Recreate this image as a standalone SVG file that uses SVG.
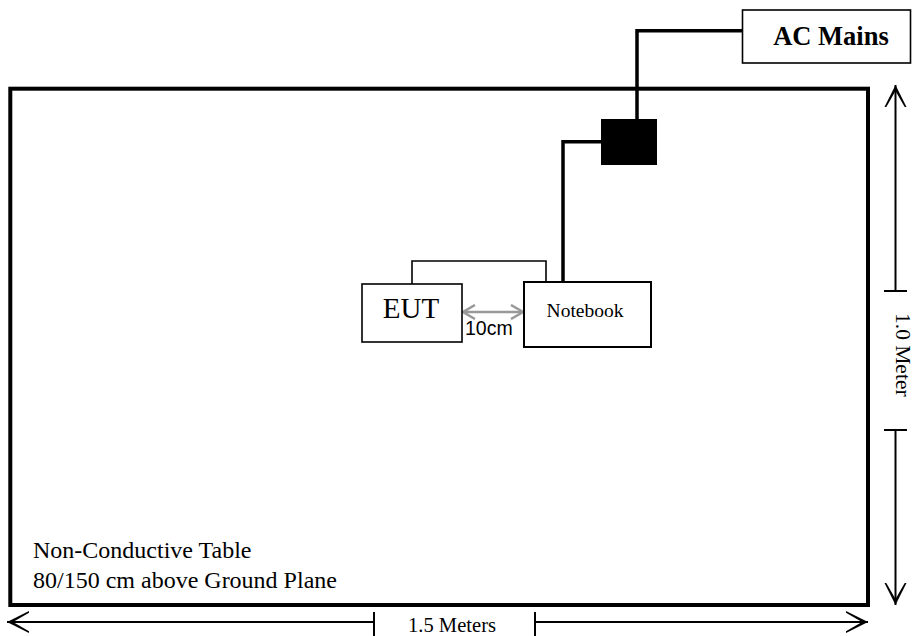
<svg xmlns="http://www.w3.org/2000/svg" width="914" height="636" viewBox="0 0 914 636">
<defs>
<style>
.serif{font-family:"Liberation Serif","Times New Roman",serif;fill:#000}
.box{fill:#fff;stroke:#000}
.wire{fill:none;stroke:#000;stroke-linejoin:miter}
.dim{fill:none;stroke:#000;stroke-width:2}
</style>
<marker id="chev" viewBox="0 0 24 24" markerWidth="24" markerHeight="24" refX="22" refY="12" orient="auto-start-reverse" markerUnits="userSpaceOnUse">
<path d="M22,12 L0,1 L0,2.8 L16,12 L0,21.2 L0,23 Z" fill="#000"/>
</marker>
<marker id="gchev" viewBox="0 0 16 16" markerWidth="16" markerHeight="16" refX="13" refY="8" orient="auto-start-reverse" markerUnits="userSpaceOnUse">
<path d="M1,1 L13,8 L1,15" fill="none" stroke="#999" stroke-width="2.5"/>
</marker>
</defs>
<rect width="914" height="636" fill="#fff"/>

<g id="table">
<rect x="10.3" y="88.7" width="857.7" height="516.3" fill="none" stroke="#000" stroke-width="4"/>
<text class="serif" x="33" y="558" font-size="24">Non-Conductive Table</text>
<text class="serif" x="33" y="588" font-size="24">80/150 cm above Ground Plane</text>
</g>

<g id="connectors">
<polyline class="wire" stroke-width="3.5" points="742,30.7 637,30.7 637,119"/>
<polyline class="wire" stroke-width="3.5" points="601,141.7 563,141.7 563,282"/>
<polyline class="wire" stroke-width="1.6" points="412,284 412,261 546,261 546,282"/>
<line x1="463" y1="312" x2="523" y2="312" stroke="#999" stroke-width="2.5" marker-start="url(#gchev)" marker-end="url(#gchev)"/>
</g>

<g id="ac-mains">
<rect class="box" x="742.5" y="10" width="168" height="53" stroke-width="1.6"/>
<text class="serif" x="831" y="45" font-size="26.5" font-weight="bold" text-anchor="middle">AC Mains</text>
</g>

<g id="power-adapter">
<rect x="601" y="119" width="56" height="46" fill="#000"/>
</g>

<g id="eut">
<rect class="box" x="362" y="284" width="100" height="58" stroke-width="1.6"/>
<text class="serif" x="411" y="318" font-size="29" text-anchor="middle">EUT</text>
</g>

<g id="notebook">
<rect class="box" x="524" y="282" width="127" height="65" stroke-width="2"/>
<text class="serif" x="585" y="317" font-size="19.5" text-anchor="middle">Notebook</text>
</g>

<text x="465" y="335" font-family="Liberation Sans, Arial, sans-serif" font-size="19.5" fill="#000">10cm</text>

<g id="dimension-width">
<line class="dim" x1="374" y1="622" x2="7" y2="622" marker-end="url(#chev)"/>
<line class="dim" x1="535" y1="622" x2="868" y2="622" marker-end="url(#chev)"/>
<line class="dim" x1="374" y1="612" x2="374" y2="636"/>
<line class="dim" x1="535" y1="612" x2="535" y2="636"/>
<text class="serif" x="452" y="632" font-size="20.5" text-anchor="middle" textLength="88" lengthAdjust="spacingAndGlyphs">1.5 Meters</text>
</g>

<g id="dimension-height">
<line class="dim" x1="895.5" y1="291" x2="895.5" y2="85" marker-end="url(#chev)"/>
<line class="dim" x1="895.5" y1="430" x2="895.5" y2="605" marker-end="url(#chev)"/>
<line class="dim" x1="884" y1="291" x2="907" y2="291"/>
<line class="dim" x1="884" y1="430" x2="907" y2="430"/>
<text class="serif" transform="translate(896,313) rotate(90)" font-size="21.5">1.0 Meter</text>
</g>
</svg>
